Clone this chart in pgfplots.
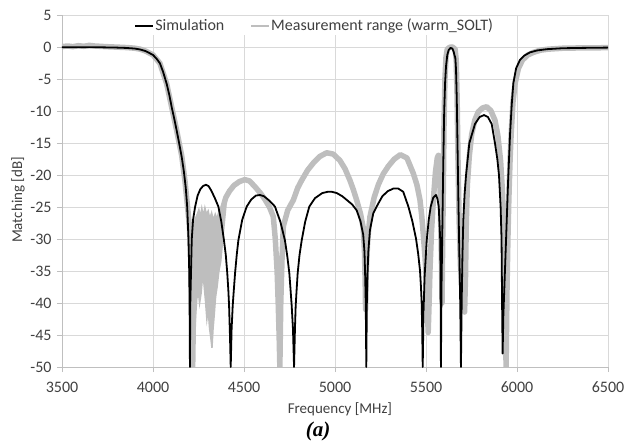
\documentclass[border=0pt]{standalone}
\usepackage{fontspec}
\setmainfont{Carlito}
\newfontfamily\serifa{Liberation Serif}
\usepackage{pgfplots}
\pgfplotsset{compat=1.18}

\definecolor{gridcol}{RGB}{217,217,217}
\definecolor{axiscol}{RGB}{191,191,191}
\definecolor{textcol}{RGB}{64,64,64}
\definecolor{meascol}{RGB}{190,190,190}

\begin{document}
\begin{tikzpicture}
\begin{axis}[
    scale only axis,
    width=546bp, height=351.7bp,
    xmin=3500, xmax=6500,
    ymin=-50, ymax=5,
    xtick={3500,4000,4500,5000,5500,6000,6500},
    ytick={-50,-45,-40,-35,-30,-25,-20,-15,-10,-5,0,5},
    grid=major,
    major grid style={draw=gridcol, line width=0.8bp},
    axis x line=bottom, axis y line=left,
    axis line style={draw=axiscol, line width=0.8bp, -},
    tick style={draw=axiscol, line width=0.8bp},
    tick align=outside, major tick length=5bp,
    /pgf/number format/assume math mode=true,
    /pgf/number format/1000 sep={},
    scaled x ticks=false,
    ticklabel style={font=\fontsize{16bp}{19bp}\selectfont, text=textcol},
    xticklabel style={anchor=center, yshift=-15bp},
    yticklabel style={anchor=east, xshift=-2bp},
    xlabel={Frequency [MHz]},
    ylabel={Matching [dB]},
    label style={font=\fontsize{15bp}{18bp}\selectfont, text=textcol},
    xlabel style={at={(axis description cs:0.509,-0.119)}, anchor=center},
    ylabel style={at={(axis description cs:-0.0806,0.475)}, anchor=center},
    legend columns=2,
    legend cell align=left,
    legend image code/.code={\draw[#1, line width=1.8bp] (0bp,0bp) -- (18bp,0bp);},
    legend style={at={(axis description cs:0.462,0.97)}, anchor=center,
        draw=none, fill=white, inner xsep=22bp, inner ysep=2bp,
        font=\fontsize{16bp}{19bp}\selectfont, text=textcol,
        nodes={inner sep=1bp},
        /tikz/every even column/.append style={column sep=25bp}},
]

% measurement: noisy part near 4300 MHz
\addplot[fill=meascol, draw=meascol, line width=1.5bp, forget plot] coordinates {
    (4222,-29) (4232,-26.8) (4242,-26.2) (4252,-25.4) (4260,-26.6) (4268,-25.2)
    (4276,-26.4) (4285,-25.1) (4294,-26.2) (4303,-25.6) (4312,-26.8) (4322,-25.9)
    (4332,-27) (4342,-26.1) (4352,-26.8) (4362,-25.7) (4372,-25.3) (4385,-24.2)
    (4400,-23.5)
    (4400,-25) (4390,-28) (4380,-31) (4372,-33.5) (4362,-35) (4352,-37.5)
    (4344,-39) (4336,-42) (4330,-44) (4324,-47) (4318,-45.5) (4311,-44)
    (4303,-41) (4296,-42.5) (4288,-39.5) (4280,-37) (4272,-36) (4264,-38.5)
    (4256,-40) (4248,-38) (4240,-39.5) (4232,-43) (4226,-46) (4222,-40)
} -- cycle;

% measurement range
\addplot[meascol, line width=5.5bp, line join=round, line cap=round, forget plot] coordinates {
    (3500,0.1) (3530,0.2) (3560,0.1) (3590,0.25) (3620,0.15) (3650,0.3) (3680,0.2)
    (3710,0.15) (3740,0.1) (3780,0.05) (3820,0) (3860,-0.05) (3900,-0.15) (3930,-0.3)
    (3960,-0.6) (4000,-1.2) (4038,-2.5) (4075,-5.7) (4103,-9.4) (4130,-13) (4158,-17)
    (4176,-21) (4190,-25) (4200,-28) (4208,-33) (4214,-42) (4218,-50) (4223,-40)
    (4228,-31) (4235,-27.5) (4250,-27) (4270,-27) (4290,-26.8) (4310,-27.3) (4330,-27)
    (4350,-27.4) (4370,-26.5) (4385,-25) (4400,-23.5) (4420,-22.5) (4445,-21.6)
    (4475,-21) (4505,-20.7) (4530,-20.9) (4560,-21.8) (4590,-22.8) (4615,-23.8)
    (4640,-25) (4661,-26.5) (4672,-30) (4682,-35) (4688,-40) (4693,-45) (4697,-50)
    (4702,-40) (4709,-33) (4716,-28) (4740,-25.5) (4771,-23.9) (4795,-22) (4817,-20.8)
    (4850,-19.2) (4881,-18.1) (4915,-17.1) (4954,-16.5) (4990,-16.7) (5027,-17.7)
    (5055,-19) (5082,-20.8) (5100,-22.2) (5119,-23.9) (5140,-26) (5155,-28.2)
    (5162,-32) (5166,-37) (5168,-41) (5172,-35) (5180,-30) (5192,-26.5) (5215,-23.5)
    (5238,-21.5) (5265,-19.8) (5293,-18.6) (5325,-17.5) (5359,-16.8) (5395,-17.3)
    (5430,-19.7) (5450,-21.5) (5467,-23.9) (5477,-26.5) (5485,-29.2) (5495,-33)
    (5504,-37.3) (5512,-44.6) (5517,-40) (5522,-34.7) (5530,-29) (5540,-24)
    (5552,-19.5) (5562,-17.3) (5568,-16.9) (5574,-18.5) (5579,-24) (5582,-29.4)
    (5586,-35) (5588,-40) (5591,-32) (5594,-25) (5599,-12) (5604,-5) (5610,-1.5)
    (5617,-0.3) (5630,0) (5645,0.05) (5660,-0.3) (5666,-2) (5671,-8) (5676,-18)
    (5682,-27) (5689,-34) (5700,-39) (5712,-41.4) (5717,-36) (5721,-28) (5727,-21.6)
    (5738,-17) (5751,-13.6) (5768,-11.4) (5787,-10.1) (5810,-9.5) (5833,-9.3)
    (5856,-9.9) (5879,-11.4) (5895,-13.8) (5910,-17.8) (5920,-22.5) (5929,-29.5)
    (5935,-38) (5940,-50) (5945,-38) (5950,-30) (5955,-24) (5962,-17.5) (5968,-13.5)
    (5978,-8.5) (5990,-5.6) (6008,-3.3) (6030,-2) (6060,-1.2) (6090,-0.8) (6130,-0.45)
    (6170,-0.3) (6250,-0.15) (6350,-0.1) (6420,-0.1) (6500,-0.05)
};

% simulation
\addplot[black, line width=1.8bp, line join=round, forget plot] coordinates {
    (3500,0) (3600,0) (3700,0) (3800,-0.05) (3850,-0.1) (3900,-0.2) (3930,-0.35)
    (3960,-0.6) (4000,-1.2) (4020,-1.8) (4038,-2.5) (4055,-3.8) (4075,-5.7) (4090,-7.5)
    (4103,-9.4) (4117,-11.2) (4130,-13) (4145,-15.2) (4158,-17.2) (4170,-19.5)
    (4180,-22) (4188,-25) (4195,-30) (4199,-35) (4201,-40) (4203,-50)
    (4205,-40) (4209,-35) (4213,-30) (4220,-27) (4231,-25) (4245,-23.2) (4260,-22.2)
    (4275,-21.7) (4291,-21.5) (4305,-21.7) (4320,-22.4) (4340,-23.6) (4359,-24.9)
    (4375,-27.2) (4390,-30.2) (4400,-32.5) (4408,-35.3) (4414,-38) (4418,-40.4)
    (4423,-45.2) (4427,-50)
    (4432,-44) (4438,-40.4) (4444,-38) (4451,-35.3) (4460,-32.5) (4469,-30.2)
    (4490,-27) (4515,-24.9) (4540,-23.8) (4565,-23.2) (4588,-23.1) (4610,-23.3)
    (4640,-24) (4670,-24.9) (4700,-27.3) (4725,-30.2) (4738,-32.7) (4749,-35.3)
    (4756,-38) (4762,-40.4) (4769,-44) (4775,-50)
    (4780,-44) (4784,-40.4) (4789,-38) (4795,-35.3) (4805,-32.5) (4817,-30.2)
    (4836,-27.3) (4859,-24.9) (4890,-23.6) (4930,-22.8) (4960,-22.6) (4982,-22.6)
    (5010,-22.8) (5040,-23.3) (5070,-24) (5095,-24.6) (5119,-25.5) (5140,-27.2)
    (5155,-29.3) (5162,-32) (5166,-36) (5169,-40) (5172,-50)
    (5175,-40) (5178,-36) (5183,-32) (5192,-28.6) (5210,-26) (5229,-24.9) (5260,-23.3)
    (5290,-22.5) (5320,-22.1) (5348,-22.1) (5375,-22.6) (5403,-24.9) (5425,-27.2)
    (5445,-29.9) (5457,-32.3) (5467,-34.9) (5472,-37.3) (5476,-39.8) (5479,-44)
    (5482,-50)
    (5486,-42) (5492,-36) (5504,-30.2) (5515,-27) (5526,-24.9) (5540,-23.5)
    (5555,-23.1) (5563,-23.7) (5570,-24.9) (5578,-30) (5580,-36) (5582,-50)
    (5585,-38) (5590,-28) (5595,-18) (5600,-10) (5605,-5.5) (5610,-3) (5617,-1.2)
    (5625,-0.4) (5635,-0.1) (5645,-0.2) (5652,-0.7) (5657,-1.3) (5661,-1.6)
    (5665,-3.5) (5669,-8) (5673,-15) (5678,-24) (5683,-32) (5688,-40) (5692,-50)
    (5696,-40) (5700,-33) (5705,-27) (5712,-23) (5720,-20) (5738,-15) (5769,-12)
    (5795,-10.9) (5819,-10.6) (5840,-10.9) (5861,-12) (5879,-15) (5892,-17.5)
    (5901,-20) (5910,-25) (5915,-30) (5918,-40) (5921,-47.9)
    (5925,-42) (5930,-38) (5940,-30) (5951,-21) (5962,-13.5) (5971,-9) (5980,-5.6)
    (5995,-3.3) (6016,-2) (6040,-1.3) (6071,-0.8) (6110,-0.5) (6163,-0.3)
    (6250,-0.15) (6350,-0.1) (6500,-0.05)
};

\addlegendimage{black, line width=1.8bp}
\addlegendentry{Simulation}
\addlegendimage{meascol, line width=1.8bp}
\addlegendentry{Measurement range (warm\_SOLT)}
\end{axis}
\node[font=\fontsize{21bp}{24bp}\selectfont\serifa\bfseries\itshape, text=black]
    at (256bp,-64bp) {(a)};
\pgfresetboundingbox
\path[use as bounding box] (-62bp,-76bp) rectangle (564bp,367bp);
\end{tikzpicture}
\end{document}
